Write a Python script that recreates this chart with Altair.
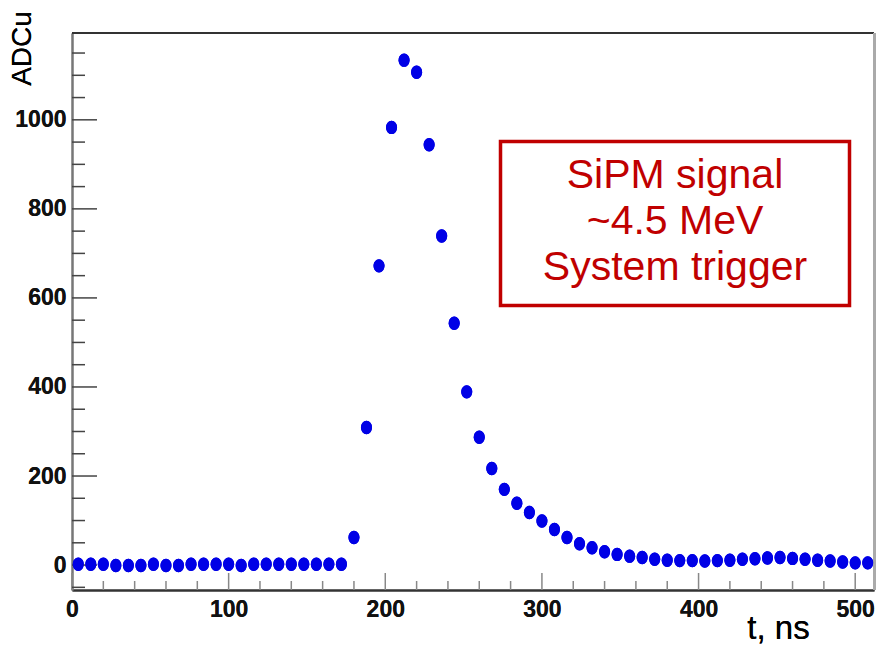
import altair as alt
import pandas as pd

# bin centres (ns)
t_ns = [4, 12, 20, 28, 36, 44, 52, 60, 68, 76, 84, 92, 100, 108, 116, 124,
        132, 140, 148, 156, 164, 172, 180, 188, 196, 204, 212, 220, 228, 236,
        244, 252, 260, 268, 276, 284, 292, 300, 308, 316, 324, 332, 340, 348,
        356, 364, 372, 380, 388, 396, 404, 412, 420, 428, 436, 444, 452, 460,
        468, 476, 484, 492, 500, 508]
# ADC counts
adc = [2, 2, 2, -1, -1, -1, 2, -1, -1, 2, 2, 2, 2, -1, 2, 2, 2, 2, 2, 2, 2, 2,
       62, 309, 672, 983, 1134, 1107, 944, 739, 543, 389, 287, 217, 170, 139,
       118, 99, 80, 62, 48, 39, 30, 24, 20, 17, 13, 11, 10, 10, 9, 10, 11, 13,
       14, 16, 17, 15, 13, 11, 9, 7, 5, 5]

x_major = [0, 100, 200, 300, 400, 500]
x_minor = [20, 40, 60, 80, 120, 140, 160, 180, 220, 240, 260, 280, 320, 340,
           360, 380, 420, 440, 460, 480]
y_major = [0, 200, 400, 600, 800, 1000]
y_minor = [-50, 50, 100, 150, 250, 300, 350, 450, 500, 550, 650, 700, 750,
           850, 900, 950, 1050, 1100, 1150]
box_lines = ["SiPM signal", "~4.5 MeV", " System trigger"]

W, H = 802, 557
xs = alt.Scale(domain=[0, 512], nice=False, zero=False)
ys = alt.Scale(domain=[-56, 1195], nice=False, zero=False)

df = pd.DataFrame({"t": t_ns, "adc": adc})
one = pd.DataFrame({"k": [0]})

LBL = "Liberation Sans, Arial, Helvetica, sans-serif"
SANS = "Liberation Sans, Arial, Helvetica, sans-serif"

def xticks(vals, length, color):
    return alt.Chart(pd.DataFrame({"v": vals})).mark_rule(
        color=color, strokeWidth=1.5).encode(
        x=alt.X("v:Q", scale=xs, axis=None),
        y=alt.value(H), y2=alt.value(H - length))

def yticks(vals, length, color):
    return alt.Chart(pd.DataFrame({"v": vals})).mark_rule(
        color=color, strokeWidth=1.5).encode(
        y=alt.Y("v:Q", scale=ys, axis=None),
        x=alt.value(0), x2=alt.value(length))

top_line = alt.Chart(one).mark_rule(color="#333333", strokeWidth=2).encode(
    x=alt.value(0), x2=alt.value(W), y=alt.value(0))
right_line = alt.Chart(one).mark_rule(color="#aaaaaa", strokeWidth=3).encode(
    x=alt.value(W + 0.5), y=alt.value(0), y2=alt.value(H))

ell = "M -0.82 0 A 0.82 1 0 1 0 0.82 0 A 0.82 1 0 1 0 -0.82 0 Z"
points = alt.Chart(df).mark_point(
    shape=ell, size=180, filled=True, color="#0000e6", opacity=1).encode(
    x=alt.X("t:Q", scale=xs, axis=alt.Axis(
        orient="bottom", format="d",
        values=x_major, ticks=False, tickSize=0, grid=False,
        domainColor="#333333", domainWidth=2,
        labelFont=LBL, labelFontWeight="bold", labelFontSize=23,
        labelColor="#111111", labelPadding=8, labelFlush=False,
        labelOverlap=False, title="t, ns", titleFont=SANS,
        titleFontWeight="normal", titleFontSize=33, titleColor="#000000",
        titleX=706, titleY=48, titleAlign="center",
        titleBaseline="alphabetic")),
    y=alt.Y("adc:Q", scale=ys, axis=alt.Axis(
        orient="left", format="d",
        values=y_major, ticks=False, tickSize=0, grid=False,
        domainColor="#777777", domainWidth=2,
        labelFont=LBL, labelFontWeight="bold", labelFontSize=23,
        labelColor="#111111", labelPadding=6, labelOverlap=False,
        labelFlush=False, title="ADCu", titleFont=SANS,
        titleFontWeight="normal", titleFontSize=28, titleColor="#000000",
        titleAngle=270, titleX=-50, titleY=15, titleAlign="center",
        titleBaseline="middle")),
)

box = alt.Chart(one).mark_rect(
    fill="transparent", stroke="#c00000", strokeWidth=3.5).encode(
    x=alt.value(428.5), x2=alt.value(777.5), y=alt.value(108.5),
    y2=alt.value(272.5))
box_text = alt.Chart(one).mark_text(
    font=SANS, fontSize=41, color="#c00000", align="center",
    baseline="middle", lineHeight=46).encode(
    x=alt.value(603), y=alt.value(143), text=alt.value(box_lines))

chart = alt.layer(
    points,
    xticks(x_minor, 9, "#888888"),
    xticks(x_major, 17, "#888888"),
    yticks(y_minor, 13, "#444444"),
    yticks(y_major, 25, "#444444"),
    top_line, right_line, box, box_text,
    points.encode(),
).resolve_axis(x="independent", y="independent").properties(
    width=W, height=H,
    padding={"left": 72, "top": 33, "right": 10, "bottom": 59},
    autosize=alt.AutoSizeParams(type="none"),
    background="white",
).configure_view(strokeWidth=0)

chart.save("out.html", embed_options={"renderer": "svg", "actions": False})
